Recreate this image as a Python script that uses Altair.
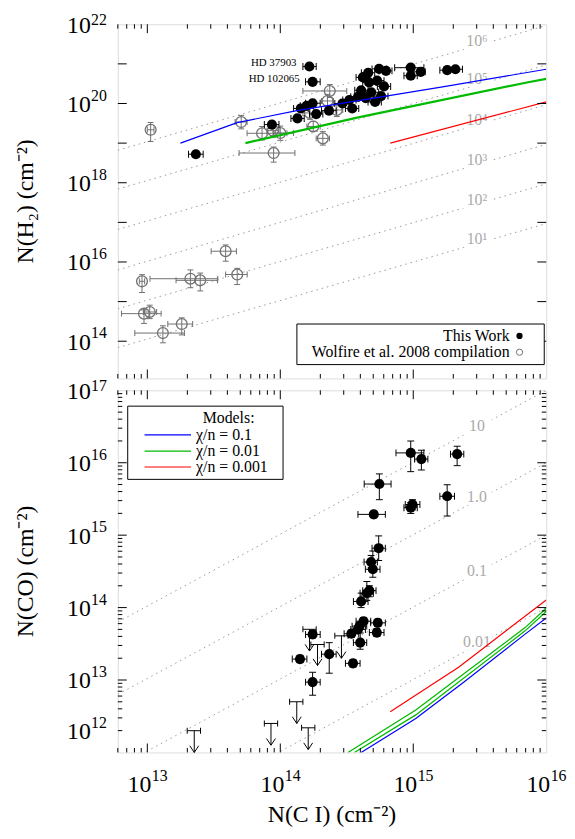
import altair as alt
import pandas as pd

FONT = "Liberation Serif"
W = 433
HT = 358
HB = 366

# ---------------- data (log10 of column densities, cm^-2) ----------------
# Top panel: this work, N(C I) vs N(H2)
tw_lx = [13.365, 14.219, 14.243, 13.937, 14.129, 14.154, 14.198, 14.243, 14.270, 14.366,
         14.467, 14.541, 14.584, 14.608, 14.621, 14.661, 14.743, 14.795, 14.668, 14.728,
         14.780, 14.684, 14.758, 14.643, 14.713, 14.519, 14.981, 14.981, 15.056, 15.255, 15.317]
tw_ly = [18.720, 20.934, 20.547, 19.468, 19.623, 19.875, 19.941, 20.007, 19.733, 19.819,
         20.000, 19.875, 20.169, 20.333, 20.659, 20.775, 20.873, 20.824, 20.529, 20.578,
         20.431, 20.284, 20.186, 20.137, 20.039, 20.088, 20.904, 20.701, 20.799, 20.841, 20.865]
tw_xlo = [13.31, 14.17, 14.19, 13.88, 14.08, 14.10, 14.15, 14.19, 14.22, 14.31,
          14.41, 14.49, 14.53, 14.56, 14.57, 14.61, 14.69, 14.74, 14.62, 14.68,
          14.73, 14.63, 14.71, 14.59, 14.66, 14.47, 14.86, 14.93, 15.00, 15.20, 15.27]
tw_xhi = [13.42, 14.27, 14.30, 13.99, 14.18, 14.21, 14.25, 14.30, 14.32, 14.42,
          14.52, 14.59, 14.64, 14.66, 14.67, 14.71, 14.80, 14.84, 14.72, 14.78,
          14.83, 14.74, 14.81, 14.70, 14.76, 14.57, 15.08, 15.03, 15.09, 15.31, 15.37]
hd_names = ["HD 37903", "HD 102065"]
hd_lx = [14.219, 14.243]
hd_ly = [20.934, 20.547]

# Top panel: Wolfire et al. 2008 compilation
wf_lx = [13.025, 13.706, 13.863, 13.945, 14.000, 13.950, 14.372, 14.355, 14.248, 14.320,
         14.223, 14.425, 12.960, 13.324, 13.398, 13.589, 13.676, 12.975, 13.018, 13.259, 13.117]
wf_ly = [19.336, 19.532, 19.248, 19.316, 19.255, 18.750, 20.316, 20.064, 19.420, 19.120,
         19.762, 19.836, 15.512, 15.578, 15.537, 16.272, 15.684, 14.696, 14.738, 14.434, 14.206]
wf_xlo = [13.00, 13.66, 13.75, 13.90, 13.95, 13.69, 14.17, 14.31, 14.20, 14.27,
          14.17, 14.38, 12.94, 13.02, 13.216, 13.48, 13.589, 12.806, 12.97, 13.154, 12.906]
wf_xhi = [13.05, 13.75, 14.05, 13.99, 14.10, 14.11, 14.50, 14.40, 14.30, 14.37,
          14.27, 14.47, 12.98, 13.53, 13.527, 13.67, 13.751, 13.104, 13.07, 13.341, 13.279]
wf_ylo = [19.04, 19.36, 19.08, 19.15, 19.07, 18.52, 20.15, 19.90, 19.30, 18.95,
          19.60, 19.67, 15.23, 15.35, 15.27, 16.02, 15.43, 14.45, 14.57, 14.16, 13.96]
wf_yhi = [19.52, 19.70, 19.42, 19.48, 19.43, 18.90, 20.48, 20.23, 19.55, 19.29,
          19.93, 20.00, 15.68, 15.80, 15.72, 16.43, 15.84, 14.79, 14.91, 14.59, 14.39]

# Top panel models (chi/n = 0.1, 0.01, 0.001)
mt_blue_lx = [13.249, 13.676, 14.124, 14.646, 15.243, 16.0]
mt_blue_ly = [19.00, 19.517, 19.82, 20.105, 20.43, 20.865]
mt_green_lx = [13.738, 14.587, 15.864, 16.0]
mt_green_ly = [19.00, 19.65, 20.537, 20.62]
mt_red_lx = [14.827, 16.0]
mt_red_ly = [19.00, 20.04]

# Top panel density guide lines
dens_labels = ["10¹", "10²", "10³", "10⁴", "10⁵", "10⁶"]
dens_left = [13.84, 14.82, 15.80, 16.82, 17.84, 18.82]
dens_right = [16.97, 17.97, 18.97, 19.97, 20.97, 21.97]
dens_lab_ly = [16.58, 17.56, 18.576, 19.574, 20.62, 21.576]
guide_lx = [12.778, 16.0]
guide_lab_lx = 15.479

# Bottom panel: this work, N(C I) vs N(CO)
bw_lx = [14.981, 15.061, 15.330, 14.745, 15.255, 14.981, 14.994, 14.703, 14.740, 14.683,
         14.696, 14.651, 14.670, 14.608, 14.626, 14.596, 14.584, 14.534, 14.601, 14.733,
         14.726, 14.547, 14.368, 14.243, 14.148, 14.243]
bw_ly = [16.136, 16.050, 16.119, 15.706, 15.537, 15.379, 15.424, 15.287, 14.820, 14.629,
         14.529, 14.198, 14.234, 14.085, 13.812, 13.744, 13.698, 13.639, 13.516, 13.789,
         13.655, 13.230, 13.357, 13.629, 13.289, 12.971]
bw_xlo = [14.87, 15.01, 15.28, 14.631, 15.20, 14.93, 14.94, 14.584, 14.69, 14.63,
          14.64, 14.60, 14.62, 14.55, 14.57, 14.54, 14.53, 14.48, 14.55, 14.68,
          14.67, 14.49, 14.31, 14.19, 14.09, 14.19]
bw_xhi = [15.08, 15.11, 15.38, 14.833, 15.31, 15.03, 15.05, 14.79, 14.79, 14.73,
          14.75, 14.70, 14.72, 14.66, 14.68, 14.65, 14.64, 14.59, 14.65, 14.79,
          14.78, 14.60, 14.42, 14.30, 14.20, 14.30]
bw_ylo = [15.877, 15.90, 15.96, 15.49, 15.264, 15.30, 15.35, 15.24, 14.65, 14.55,
          14.42, 14.10, 14.15, 14.00, 13.76, 13.70, 13.65, 13.59, 13.425, 13.74,
          13.60, 13.18, 13.094, 13.58, 13.24, 12.79]
bw_yhi = [16.30, 16.173, 16.228, 15.846, 15.696, 15.45, 15.49, 15.33, 14.99, 14.72,
          14.78, 14.36, 14.30, 14.20, 13.86, 13.79, 13.75, 13.69, 13.65, 13.84,
          13.71, 13.28, 13.516, 13.68, 13.34, 13.107]

# Bottom panel: upper limits on N(CO)
ul_lx = [13.353, 13.930, 14.124, 14.210, 14.220, 14.280, 14.460]
ul_ly = [12.30, 12.40, 12.70, 12.34, 13.70, 13.49, 13.61]
ul_tip = [12.00, 12.10, 12.40, 12.04, 13.40, 13.20, 13.30]
ul_xlo = [13.30, 13.88, 14.07, 14.16, 14.17, 14.23, 14.41]
ul_xhi = [13.40, 13.98, 14.17, 14.26, 14.27, 14.33, 14.51]

# Bottom panel models
mb_blue_lx = [14.608, 15.019, 15.379, 15.839, 16.0]
mb_blue_ly = [12.00, 12.47, 12.97, 13.63, 13.857]
mb_green1_lx = [14.509, 15.019, 15.839, 16.0]
mb_green1_ly = [12.00, 12.586, 13.72, 13.99]
mb_green2_lx = [14.558, 15.019, 15.839, 16.0]
mb_green2_ly = [12.00, 12.518, 13.675, 13.945]
mb_red_lx = [14.827, 15.341, 16.0]
mb_red_ly = [12.562, 13.176, 14.106]

# Bottom panel ratio guide lines N(CO)/N(C I)
rat_labels = ["10", "1.0", "0.1", "0.01"]
rat_left = [13.80, 12.80, 11.80, 10.80]
rat_right = [17.0, 16.0, 15.0, 14.0]
rat_lab_ly = [16.50, 15.53, 14.50, 13.52]

# Tick labels
x_lab_vals = [1e13, 1e14, 1e15, 1e16]
x_lab_exp = ["13", "14", "15", "16"]
yt_lab_vals = [1e14, 1e16, 1e18, 1e20, 1e22]
yt_lab_exp = ["14", "16", "18", "20", "22"]
yt_exp_dy = [-3, -3, -3, -3, 1]
yb_lab_vals = [2e12, 1e13, 1e14, 1e15, 1e16, 1e17]
yb_lab_exp = ["12", "13", "14", "15", "16", "17"]
yb_exp_dy = [-3, -3, -3, -3, -3, 1]

# Tick positions
x_major = [1e13, 1e14, 1e15]
x_minor = [m * 10.0 ** e for e in (12, 13, 14, 15) for m in range(2, 10) if m * 10.0 ** e >= 6e12]
yt_major = [10.0 ** e for e in range(14, 22)]
yb_major = [10.0 ** e for e in range(13, 17)]
yb_minor = [m * 10.0 ** e for e in (12, 13, 14, 15, 16) for m in range(2, 10)]

BLUE, GREEN, RED = "#0000ff", "#00bb00", "#ff0000"
GRAY = "#707070"

xs = alt.Scale(type="log", domain=[6e12, 1e16], nice=False)
yts = alt.Scale(type="log", domain=[1.15e13, 1e22], nice=False)
ybs = alt.Scale(type="log", domain=[1e12, 1e17], nice=False)


def p(v):
    return [10.0 ** a for a in v]


def X(f, t="Q"):
    return alt.X(f"{f}:{t}", scale=xs, axis=None)


def mk_Y(ys):
    def Y(f):
        return alt.Y(f"{f}:Q", scale=ys, axis=None)
    return Y


def ticks(ys, ymaj, ymin, H):
    Y = mk_Y(ys)
    out = []
    for vals, L in ((x_major, 9), (x_minor, 4.5)):
        d = pd.DataFrame({"v": vals})
        out.append(alt.Chart(d).mark_rule(color="black", strokeWidth=1).encode(
            x=X("v"), y=alt.value(H), y2=alt.value(H - L)))
        out.append(alt.Chart(d).mark_rule(color="black", strokeWidth=1).encode(
            x=X("v"), y=alt.value(0), y2=alt.value(L)))
    for vals, L in ((ymaj, 9), (ymin, 4.5)):
        if not vals:
            continue
        d = pd.DataFrame({"v": vals})
        out.append(alt.Chart(d).mark_rule(color="black", strokeWidth=1).encode(
            y=Y("v"), x=alt.value(0), x2=alt.value(L)))
        out.append(alt.Chart(d).mark_rule(color="black", strokeWidth=1).encode(
            y=Y("v"), x=alt.value(W), x2=alt.value(W - L)))
    return out


def errbars(df, ys, color, xcaps=True, ycaps=True, vbars=True, cap=7):
    Y = mk_Y(ys)
    b = alt.Chart(df)
    out = [b.mark_rule(color=color, strokeWidth=1).encode(x=X("xlo"), x2="xhi", y=Y("y"))]
    if xcaps:
        for f in ("xlo", "xhi"):
            out.append(b.mark_tick(color=color, orient="vertical", size=cap, thickness=1, opacity=1)
                       .encode(x=X(f), y=Y("y")))
    if vbars:
        out.append(b.mark_rule(color=color, strokeWidth=1).encode(x=X("x"), y=Y("ylo"), y2="yhi"))
        if ycaps:
            for f in ("ylo", "yhi"):
                out.append(b.mark_tick(color=color, orient="horizontal", size=cap, thickness=1, opacity=1)
                           .encode(x=X("x"), y=Y(f)))
    return out


def line(lx, ly, ys, color, width=1.2, dash=None):
    Y = mk_Y(ys)
    d = pd.DataFrame({"x": p(lx), "y": p(ly), "o": list(range(len(lx)))})
    kw = dict(color=color, strokeWidth=width, clip=True)
    if dash:
        kw["strokeDash"] = dash
    return alt.Chart(d).mark_line(**kw).encode(x=X("x"), y=Y("y"), order="o:O")


def guides(lefts, rights, labels, lab_ly, ys):
    Y = mk_Y(ys)
    out = []
    for a, b_ in zip(lefts, rights):
        out.append(line(guide_lx, [a, b_], ys, "#999999", 1, [1.5, 4]))
    d = pd.DataFrame({"x": [10.0 ** guide_lab_lx] * len(labels), "y": p(lab_ly), "t": labels})
    out.append(alt.Chart(d).mark_point(shape="M-1,-0.55H1V0.55H-1Z", filled=True, fill="white",
                                        stroke=None, size=900, opacity=1).encode(x=X("x"), y=Y("y")))
    out.append(alt.Chart(d).mark_text(font=FONT, fontSize=16, color="#aaaaaa", baseline="middle")
               .encode(x=X("x"), y=Y("y"), text="t:N"))
    return out


def one(text, x, y, **kw):
    d = pd.DataFrame({"t": [text]})
    return alt.Chart(d).mark_text(font=FONT, **kw).encode(x=alt.value(x), y=alt.value(y), text="t:N")


def ylabels(vals, exps, dys, ys):
    Y = mk_Y(ys)
    out = []
    d = pd.DataFrame({"v": vals, "b": ["10"] * len(vals), "e": exps})
    out.append(alt.Chart(d).mark_text(font=FONT, fontSize=24, align="right", baseline="alphabetic", dy=8.5)
               .encode(y=Y("v"), x=alt.value(-27.3), text="b:N"))
    for v, e, dy in zip(vals, exps, dys):
        dd = pd.DataFrame({"v": [v], "e": [e]})
        out.append(alt.Chart(dd).mark_text(font=FONT, fontSize=16, align="left", baseline="alphabetic", dy=dy)
                   .encode(y=Y("v"), x=alt.value(-27), text="e:N"))
    return out


# ---------------- top panel ----------------
YT = mk_Y(yts)
wf_df = pd.DataFrame({"x": p(wf_lx), "y": p(wf_ly), "xlo": p(wf_xlo), "xhi": p(wf_xhi),
                      "ylo": p(wf_ylo), "yhi": p(wf_yhi)})
tw_df = pd.DataFrame({"x": p(tw_lx), "y": p(tw_ly), "xlo": p(tw_xlo), "xhi": p(tw_xhi)})
hd_df = pd.DataFrame({"x": p(hd_lx), "y": p(hd_ly), "t": hd_names})

top_layers = []
top_layers += guides(dens_left, dens_right, dens_labels, dens_lab_ly, yts)
top_layers += errbars(wf_df, yts, GRAY, cap=6)
top_layers.append(alt.Chart(wf_df).mark_point(shape="circle", filled=False, color=GRAY, size=120,
                                              strokeWidth=1.3, opacity=1).encode(x=X("x"), y=YT("y")))
top_layers += errbars(tw_df, yts, "black", vbars=False, cap=7)
top_layers.append(alt.Chart(tw_df).mark_circle(color="black", size=105, opacity=1).encode(x=X("x"), y=YT("y")))
top_layers.append(alt.Chart(hd_df).mark_text(font=FONT, fontSize=11, align="right", baseline="middle",
                                             dx=-13, dy=-3).encode(x=X("x"), y=YT("y"), text="t:N"))
top_layers.append(line(mt_blue_lx, mt_blue_ly, yts, BLUE, 1.2))
top_layers.append(line(mt_green_lx, mt_green_ly, yts, GREEN, 2.2))
top_layers.append(line(mt_red_lx, mt_red_ly, yts, RED, 1.2))
top_layers += ticks(yts, yt_major, [], HT)
top_layers += ylabels(yt_lab_vals, yt_lab_exp, yt_exp_dy, yts)
# legend
top_layers.append(alt.Chart(pd.DataFrame({"a": [0]})).mark_rect(fill="white", stroke="black", strokeWidth=1)
                  .encode(x=alt.value(181), x2=alt.value(431), y=alt.value(HT - 55), y2=alt.value(HT - 14)))
top_layers.append(one("This Work", 396, HT - 43, fontSize=16, align="right", baseline="middle"))
top_layers.append(one("Wolfire et al. 2008 compilation", 396, HT - 26.5, fontSize=16, align="right",
                      baseline="middle"))
top_layers.append(alt.Chart(pd.DataFrame({"a": [0]})).mark_circle(color="black", size=40, opacity=1)
                  .encode(x=alt.value(406), y=alt.value(HT - 43)))
top_layers.append(alt.Chart(pd.DataFrame({"a": [0]})).mark_point(shape="circle", filled=False, color=GRAY,
                                                                 size=40, strokeWidth=1, opacity=1)
                  .encode(x=alt.value(406), y=alt.value(HT - 26.5)))
top_layers.append(one("N(H₂) (cm⁻²)", -86, HT / 2, fontSize=24, angle=270, align="center", baseline="alphabetic"))

top = alt.layer(*top_layers).properties(width=W, height=HT)

# ---------------- bottom panel ----------------
YB = mk_Y(ybs)
bw_df = pd.DataFrame({"x": p(bw_lx), "y": p(bw_ly), "xlo": p(bw_xlo), "xhi": p(bw_xhi),
                      "ylo": p(bw_ylo), "yhi": p(bw_yhi)})
ul_df = pd.DataFrame({"x": p(ul_lx), "y": p(ul_ly), "tip": p(ul_tip), "xlo": p(ul_xlo), "xhi": p(ul_xhi)})

bot_layers = []
bot_layers += guides(rat_left, rat_right, rat_labels, rat_lab_ly, ybs)
bot_layers += errbars(bw_df, ybs, "black", cap=7)
bot_layers.append(alt.Chart(bw_df).mark_circle(color="black", size=105, opacity=1).encode(x=X("x"), y=YB("y")))
ub = alt.Chart(ul_df)
bot_layers.append(ub.mark_rule(color="black", strokeWidth=1).encode(x=X("xlo"), x2="xhi", y=YB("y")))
for f in ("xlo", "xhi"):
    bot_layers.append(ub.mark_tick(color="black", orient="vertical", size=6, thickness=1, opacity=1)
                      .encode(x=X(f), y=YB("y")))
bot_layers.append(ub.mark_rule(color="black", strokeWidth=1).encode(x=X("x"), y=YB("y"), y2="tip"))
bot_layers.append(ub.mark_point(shape="M-1,-1.5L0,0L1,-1.5", filled=False, color="black", size=81,
                                strokeWidth=1, opacity=1).encode(x=X("x"), y=YB("tip")))
bot_layers.append(line(mb_blue_lx, mb_blue_ly, ybs, BLUE, 1.2))
bot_layers.append(line(mb_green1_lx, mb_green1_ly, ybs, GREEN, 1.3))
bot_layers.append(line(mb_green2_lx, mb_green2_ly, ybs, GREEN, 1.3))
bot_layers.append(line(mb_red_lx, mb_red_ly, ybs, RED, 1.2))
bot_layers += ticks(ybs, yb_major, yb_minor, HB)
bot_layers += ylabels(yb_lab_vals, yb_lab_exp, yb_exp_dy, ybs)
# x tick labels
xd = pd.DataFrame({"v": x_lab_vals, "b": ["10"] * 4, "e": x_lab_exp})
bot_layers.append(alt.Chart(xd).mark_text(font=FONT, fontSize=24, align="right", baseline="alphabetic", dx=4)
                  .encode(x=X("v"), y=alt.value(HB + 39.5), text="b:N"))
bot_layers.append(alt.Chart(xd).mark_text(font=FONT, fontSize=16, align="left", baseline="alphabetic", dx=4.5)
                  .encode(x=X("v"), y=alt.value(HB + 29), text="e:N"))
# legend
bot_layers.append(alt.Chart(pd.DataFrame({"a": [0]})).mark_rect(fill="white", stroke="black", strokeWidth=1)
                  .encode(x=alt.value(10), x2=alt.value(167), y=alt.value(16), y2=alt.value(90)))
bot_layers.append(one("Models:", 112, 28, fontSize=16, align="center", baseline="middle"))
for yy, c, t in ((45, BLUE, "χ/n = 0.1"), (61.5, GREEN, "χ/n = 0.01"), (77.5, RED, "χ/n = 0.001")):
    bot_layers.append(alt.Chart(pd.DataFrame({"a": [0]})).mark_rule(color=c, strokeWidth=1.2)
                      .encode(x=alt.value(27), x2=alt.value(74), y=alt.value(yy)))
    bot_layers.append(one(t, 79, yy, fontSize=16, align="left", baseline="middle"))
bot_layers.append(one("N(CO) (cm⁻²)", -86, HB / 2, fontSize=24, angle=270, align="center", baseline="alphabetic"))
bot_layers.append(one("N(C I) (cm⁻²)", W / 2, HB + 70, fontSize=24, align="center", baseline="alphabetic"))

bottom = alt.layer(*bot_layers).properties(width=W, height=HB)

chart = alt.vconcat(top, bottom, spacing=12, bounds="flush").properties(
    padding={"left": 5, "right": 0, "top": -1, "bottom": 0}
).configure_view(stroke="black", strokeWidth=1).configure(background="white")

chart.save("out.html", embed_options={"renderer": "svg", "actions": False})
